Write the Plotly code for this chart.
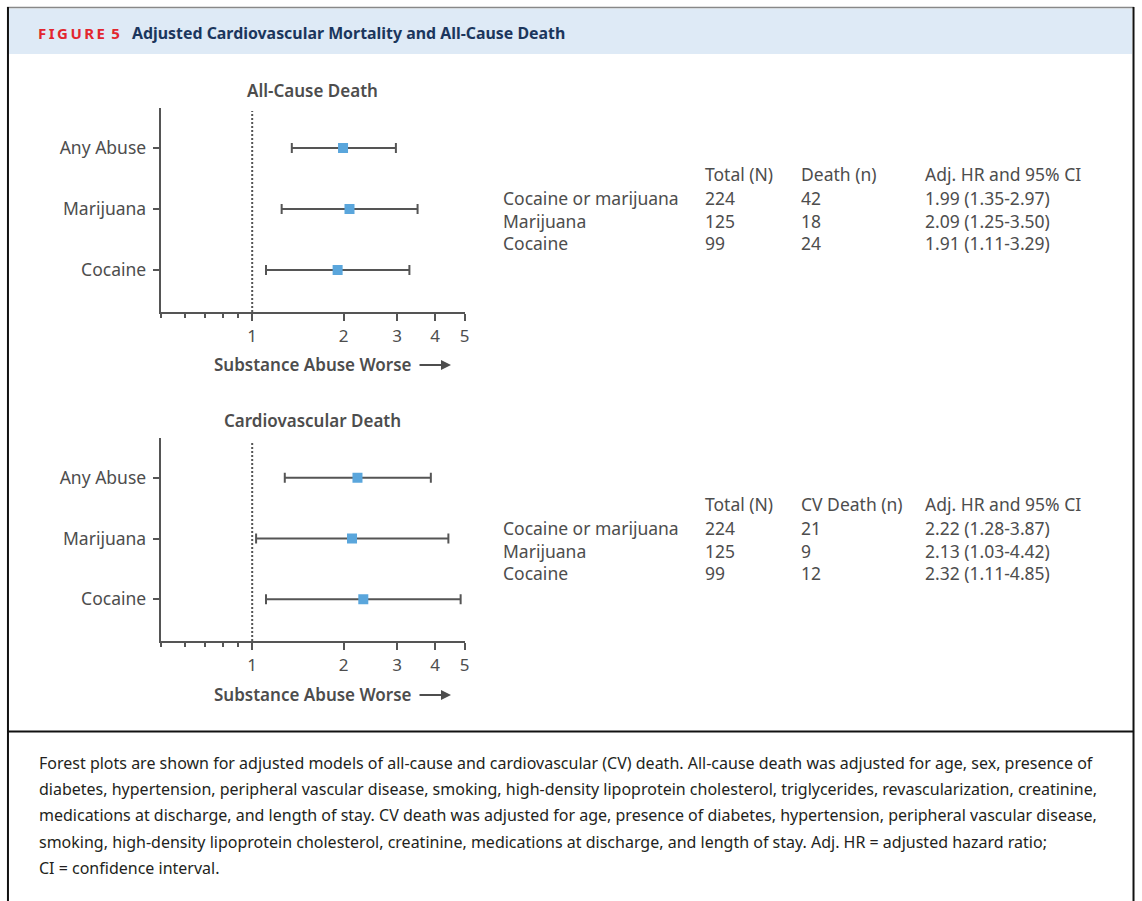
import math
import plotly.graph_objects as go

W, H = 1142, 901


def X(px):
    return px / W


def Y(py):
    return 1 - py / H


# ---------------- data ----------------
plot_labels = ["Any Abuse", "Marijuana", "Cocaine"]
category_order = ["Cocaine", "Marijuana", "Any Abuse"]
table_groups = ["Cocaine or marijuana", "Marijuana", "Cocaine"]
total_n = [224, 125, 99]

allcause_deaths = [42, 18, 24]
allcause_hr = [1.99, 2.09, 1.91]
allcause_lo = [1.35, 1.25, 1.11]
allcause_hi = [2.97, 3.50, 3.29]

cv_deaths = [21, 9, 12]
cv_hr = [2.22, 2.13, 2.32]
cv_lo = [1.28, 1.03, 1.11]
cv_hi = [3.87, 4.42, 4.85]

x_ticks = [1, 2, 3, 4, 5]
x_tick_text = ["1", "2", "3", "4", "5"]
x_minor_ticks = [0.5, 0.6, 0.7, 0.8, 0.9]

panel_titles = ["All-Cause Death", "Cardiovascular Death"]
table_headers = [
    ["Total (N)", "Death (n)", "Adj. HR and 95% CI"],
    ["Total (N)", "CV Death (n)", "Adj. HR and 95% CI"],
]
x_axis_label = "Substance Abuse Worse"

caption_lines = [
    "Forest plots are shown for adjusted models of all-cause and cardiovascular (CV) death. All-cause death was adjusted for age, sex, presence of",
    "diabetes, hypertension, peripheral vascular disease, smoking, high-density lipoprotein cholesterol, triglycerides, revascularization, creatinine,",
    "medications at discharge, and length of stay. CV death was adjusted for age, presence of diabetes, hypertension, peripheral vascular disease,",
    "smoking, high-density lipoprotein cholesterol, creatinine, medications at discharge, and length of stay. Adj. HR = adjusted hazard ratio;",
    "CI = confidence interval.",
]

# ---------------- styling ----------------
FONT = "Noto Sans"
GREY = "#4d4d4d"
AXIS = "#555555"
BLUE = "#5aa6dc"

fig = go.Figure()

panels = [
    dict(hr=allcause_hr, lo=allcause_lo, hi=allcause_hi, deaths=allcause_deaths,
         top=108, bottom=312, title_y=90, label_y=364, table_y=174),
    dict(hr=cv_hr, lo=cv_lo, hi=cv_hi, deaths=cv_deaths,
         top=438, bottom=641, title_y=420, label_y=694, table_y=504),
]

x_left_px, x_right_px = 161.4, 466.7
annotations = []
shapes = []

for i, p in enumerate(panels):
    xa = "x" if i == 0 else "x2"
    ya = "y" if i == 0 else "y2"
    fig.add_trace(go.Scatter(
        x=p["hr"], y=plot_labels, mode="markers",
        marker=dict(symbol="square", size=10, color=BLUE),
        error_x=dict(type="data", symmetric=False,
                     array=[h - m for h, m in zip(p["hi"], p["hr"])],
                     arrayminus=[m - l for m, l in zip(p["hr"], p["lo"])],
                     color=AXIS, thickness=2, width=5),
        xaxis=xa, yaxis=ya, showlegend=False, hoverinfo="skip",
    ))

    axis_common = dict(
        type="log", range=[math.log10(0.5), math.log10(5)],
        domain=[X(x_left_px), X(x_right_px)],
        tickmode="array", tickvals=x_ticks, ticktext=x_tick_text,
        ticks="outside", ticklen=7, tickwidth=2, tickcolor=AXIS,
        showline=True, linecolor=AXIS, linewidth=2, showgrid=False, zeroline=False,
        tickfont=dict(family=FONT, size=17, color=GREY),
        ticklabelstandoff=1,
        minor=dict(tickmode="array", tickvals=x_minor_ticks, ticks="outside",
                   ticklen=4, tickwidth=2, tickcolor=AXIS, showgrid=False),
        fixedrange=True,
    )
    yaxis_common = dict(
        type="category", categoryorder="array", categoryarray=category_order,
        range=[-42 / 61, 2 + 40 / 61],
        domain=[Y(p["bottom"]), Y(p["top"])],
        ticks="outside", ticklen=6, tickwidth=2, tickcolor=AXIS,
        showline=True, linecolor=AXIS, linewidth=2, showgrid=False, zeroline=False,
        tickfont=dict(family=FONT, size=17.5, color=GREY),
        ticklabelstandoff=3,
        fixedrange=True,
    )
    if i == 0:
        fig.update_layout(xaxis=dict(axis_common, anchor="y"), yaxis=dict(yaxis_common, anchor="x"))
    else:
        fig.update_layout(xaxis2=dict(axis_common, anchor="y2"), yaxis2=dict(yaxis_common, anchor="x2"))

    # reference line at HR = 1
    shapes.append(dict(type="line", xref=xa, x0=1, x1=1, yref="paper",
                       y0=Y(p["bottom"]), y1=Y(p["top"] + 3),
                       line=dict(color=AXIS, width=2, dash="2px,2px"), layer="below"))

    # panel title
    annotations.append(dict(text=panel_titles[i], x=X(314), y=Y(p["title_y"]), xref="paper", yref="paper",
                            showarrow=False, xanchor="center", yanchor="middle",
                            font=dict(family=FONT, size=17, color=GREY, weight=600)))
    # x axis label + arrow
    annotations.append(dict(text=x_axis_label, x=X(416), y=Y(p["label_y"]), xref="paper", yref="paper",
                            showarrow=False, xanchor="right", yanchor="middle",
                            font=dict(family=FONT, size=17, color=GREY, weight=600)))
    annotations.append(dict(text="", x=X(453), y=Y(p["label_y"] + 1), ax=-33, ay=0,
                            xref="paper", yref="paper", axref="pixel", ayref="pixel",
                            showarrow=True, arrowhead=2, arrowsize=1, arrowwidth=2, arrowcolor=GREY))

    # table
    col_x = [503, 706, 803, 927]
    ty = p["table_y"]
    for c, htxt in enumerate(table_headers[i]):
        annotations.append(dict(text=htxt, x=X(col_x[c + 1]), y=Y(ty), xref="paper", yref="paper",
                                showarrow=False, xanchor="left", yanchor="middle",
                                font=dict(family=FONT, size=17.5, color=GREY)))
    for r in range(3):
        ry = ty + 24 + r * 22.7
        hr_txt = f"{p['hr'][r]:.2f} ({p['lo'][r]:.2f}-{p['hi'][r]:.2f})"
        row = [table_groups[r], str(total_n[r]), str(p["deaths"][r]), hr_txt]
        for c, txt in enumerate(row):
            annotations.append(dict(text=txt, x=X(col_x[c]), y=Y(ry), xref="paper", yref="paper",
                                    showarrow=False, xanchor="left", yanchor="middle",
                                    font=dict(family=FONT, size=17.5, color=GREY)))

# header
shapes.append(dict(type="rect", xref="paper", yref="paper", x0=X(9), x1=X(1137), y0=Y(54), y1=Y(8.5),
                   fillcolor="#deeaf6", line=dict(width=0), layer="below"))
shapes.append(dict(type="line", xref="paper", yref="paper", x0=X(7), x1=X(1139), y0=Y(7.5), y1=Y(7.5),
                   line=dict(color="#888888", width=1.5)))
shapes.append(dict(type="line", xref="paper", yref="paper", x0=X(8), x1=X(8), y0=Y(7), y1=Y(905),
                   line=dict(color="#111111", width=2)))
shapes.append(dict(type="line", xref="paper", yref="paper", x0=X(1138.5), x1=X(1138.5), y0=Y(7), y1=Y(905),
                   line=dict(color="#111111", width=2)))
shapes.append(dict(type="line", xref="paper", yref="paper", x0=X(8), x1=X(1139), y0=Y(731.5), y1=Y(731.5),
                   line=dict(color="#111111", width=2)))

annotations.append(dict(text="F\u2009I\u2009G\u2009U\u2009R\u2009E\u2009 5", x=X(36), y=Y(33), xref="paper", yref="paper",
                        showarrow=False, xanchor="left", yanchor="middle",
                        font=dict(family=FONT, size=15, color="#e2262e", weight="bold")))
annotations.append(dict(text="Adjusted Cardiovascular Mortality and All-Cause Death", x=X(131), y=Y(33),
                        xref="paper", yref="paper", showarrow=False, xanchor="left", yanchor="middle",
                        font=dict(family=FONT, size=15.9, color="#1b365d", weight="bold")))

# caption
for k, line in enumerate(caption_lines):
    annotations.append(dict(text=line, x=X(37), y=Y(763 + k * 26.2), xref="paper", yref="paper",
                            showarrow=False, xanchor="left", yanchor="middle",
                            font=dict(family=FONT, size=16, color="#231f20")))

fig.update_layout(
    width=W, height=H, margin=dict(l=0, r=0, t=0, b=0),
    paper_bgcolor="white", plot_bgcolor="rgba(0,0,0,0)",
    shapes=shapes, annotations=annotations,
    font=dict(family=FONT, color=GREY),
)

fig.write_html("out.html", config={"displayModeBar": False},
               post_script="document.body.style.margin='0';document.body.style.overflow='hidden';")
